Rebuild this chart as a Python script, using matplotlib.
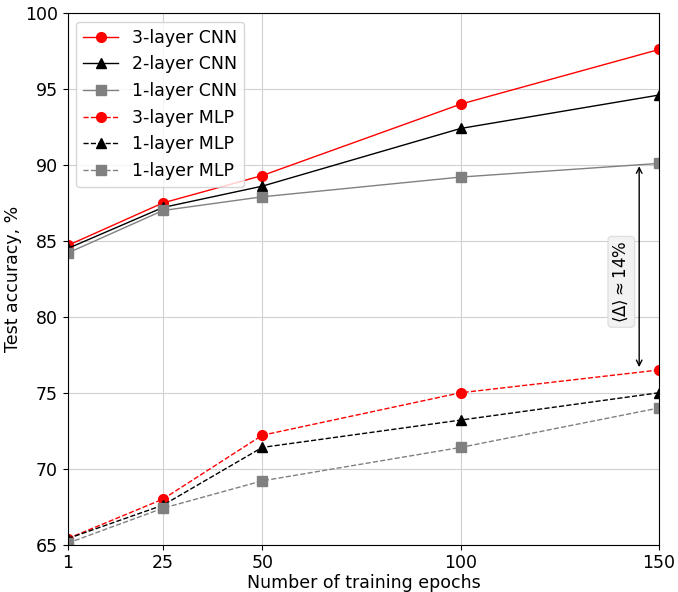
import matplotlib
matplotlib.use('Agg')
import matplotlib.pyplot as plt

# Training epochs and test accuracies (%)
epochs = [1, 25, 50, 100, 150]
cnn3 = [84.7, 87.5, 89.3, 94.0, 97.6]
cnn2 = [84.5, 87.2, 88.6, 92.4, 94.6]
cnn1 = [84.2, 87.0, 87.9, 89.2, 90.1]
mlp3 = [65.4, 68.0, 72.2, 75.0, 76.5]
mlp2 = [65.4, 67.6, 71.4, 73.2, 75.0]
mlp1 = [65.1, 67.4, 69.2, 71.4, 74.0]
labels = ['3-layer CNN', '2-layer CNN', '1-layer CNN',
          '3-layer MLP', '1-layer MLP', '1-layer MLP']

fig, ax = plt.subplots(figsize=(6.78, 5.92), dpi=100)
fig.subplots_adjust(left=0.1, right=0.972, top=0.978, bottom=0.08)

ax.plot(epochs, cnn3, '-', color='red', marker='o', ms=7, lw=1, label=labels[0])
ax.plot(epochs, cnn2, '-', color='black', marker='^', ms=6.5, lw=1, label=labels[1])
ax.plot(epochs, cnn1, '-', color='gray', marker='s', ms=6.5, lw=1, label=labels[2])
ax.plot(epochs, mlp3, '--', color='red', marker='o', ms=7, lw=1, label=labels[3])
ax.plot(epochs, mlp2, '--', color='black', marker='^', ms=6.5, lw=1, label=labels[4])
ax.plot(epochs, mlp1, '--', color='gray', marker='s', ms=6.5, lw=1, label=labels[5])

# Gap arrow between 1-layer CNN and 3-layer MLP at the last epoch
ax.annotate('', xy=(145, cnn1[-1]), xytext=(145, mlp3[-1]),
            arrowprops=dict(arrowstyle='<->', color='black', lw=1))
ax.text(140.5, 82.3, r'$\langle\Delta\rangle \approx 14\%$', rotation=90,
        ha='center', va='center', fontsize=12,
        bbox=dict(boxstyle='round,pad=0.25', fc='#f2f2f2', ec='#e0e0e0'))

ax.set_xlim(1, 150)
ax.set_ylim(65, 100)
ax.set_xticks(epochs)
ax.set_yticks(range(65, 101, 5))
ax.tick_params(labelsize=12.5)
ax.grid(True, color='#d0d0d0', lw=0.8)
ax.set_xlabel('Number of training epochs', fontsize=12.5, labelpad=1)
ax.set_ylabel('Test accuracy, %', fontsize=12.5, labelpad=2)
ax.legend(loc='upper left', fontsize=12.5)

fig.savefig('out.png', dpi=100)
